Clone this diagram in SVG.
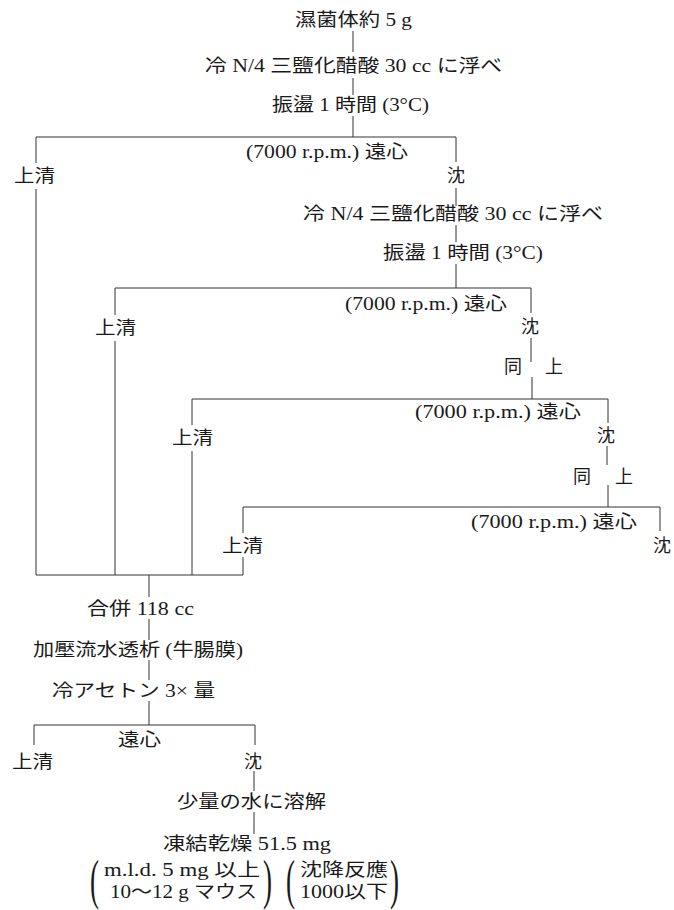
<svg xmlns="http://www.w3.org/2000/svg" width="674" height="910" viewBox="0 0 674 910">
<style>
text{font-family:"Liberation Serif","Noto Sans CJK JP",serif;font-size:18px;fill:#1a1a1a}
.c line{stroke:#333;stroke-width:1}
.p{font-family:"Liberation Serif",serif;font-size:54px}
</style>
<rect width="674" height="910" fill="#fff"/>
<g class="c" id="connectors">
<line x1="353" y1="31" x2="353" y2="52"/>
<line x1="353" y1="78" x2="353" y2="95"/>
<line x1="353" y1="116" x2="353" y2="137"/>
<line x1="36" y1="137" x2="456" y2="137"/>
<line x1="36" y1="137" x2="36" y2="163"/>
<line x1="36" y1="189" x2="36" y2="575"/>
<line x1="456" y1="137" x2="456" y2="162"/>
<line x1="456" y1="188" x2="456" y2="206"/>
<line x1="456" y1="225" x2="456" y2="242"/>
<line x1="456" y1="264" x2="456" y2="288"/>
<line x1="115" y1="288" x2="531" y2="288"/>
<line x1="115" y1="288" x2="115" y2="315"/>
<line x1="115" y1="341" x2="115" y2="575"/>
<line x1="531" y1="288" x2="531" y2="313"/>
<line x1="531" y1="338" x2="531" y2="362"/>
<line x1="532" y1="377" x2="532" y2="399"/>
<line x1="192" y1="399" x2="608" y2="399"/>
<line x1="192" y1="399" x2="192" y2="425"/>
<line x1="192" y1="451" x2="192" y2="575"/>
<line x1="608" y1="399" x2="608" y2="423"/>
<line x1="607" y1="446" x2="607" y2="465"/>
<line x1="608" y1="485" x2="608" y2="507"/>
<line x1="243" y1="507" x2="660" y2="507"/>
<line x1="243" y1="507" x2="243" y2="533"/>
<line x1="243" y1="557" x2="243" y2="575"/>
<line x1="660" y1="507" x2="660" y2="531"/>
<line x1="36" y1="575" x2="243" y2="575"/>
<line x1="149" y1="575" x2="149" y2="597"/>
<line x1="149" y1="619" x2="149" y2="640"/>
<line x1="149" y1="660" x2="149" y2="680"/>
<line x1="149" y1="701" x2="149" y2="725"/>
<line x1="34" y1="725" x2="255" y2="725"/>
<line x1="34" y1="725" x2="34" y2="745"/>
<line x1="255" y1="725" x2="255" y2="745"/>
<line x1="254" y1="771" x2="254" y2="791"/>
<line x1="254" y1="812" x2="254" y2="834"/>
</g>
<g id="n1"><text x="295" y="26" textLength="117" lengthAdjust="spacingAndGlyphs">濕菌体約 5 g</text></g>
<g id="n2"><text x="205" y="72" textLength="297" lengthAdjust="spacingAndGlyphs">冷 N/4 三鹽化醋酸 30 cc に浮べ</text></g>
<g id="n3"><text x="272" y="111" textLength="157" lengthAdjust="spacingAndGlyphs">振盪 1 時間 (3°C)</text></g>
<g id="n4"><text x="246" y="158" textLength="162" lengthAdjust="spacingAndGlyphs">(7000 r.p.m.) 遠心</text></g>
<g id="n5"><text x="14" y="182" textLength="41" lengthAdjust="spacingAndGlyphs">上清</text></g>
<g id="n6"><text x="447" y="182">沈</text></g>
<g id="n7"><text x="303" y="220" textLength="300" lengthAdjust="spacingAndGlyphs">冷 N/4 三鹽化醋酸 30 cc に浮べ</text></g>
<g id="n8"><text x="383" y="259" textLength="160" lengthAdjust="spacingAndGlyphs">振盪 1 時間 (3°C)</text></g>
<g id="n9"><text x="345" y="310" textLength="162" lengthAdjust="spacingAndGlyphs">(7000 r.p.m.) 遠心</text></g>
<g id="n10"><text x="95" y="334" textLength="41" lengthAdjust="spacingAndGlyphs">上清</text></g>
<g id="n11"><text x="521" y="333">沈</text></g>
<g id="n12"><text x="504" y="373" textLength="59" lengthAdjust="spacing">同　上</text></g>
<g id="n13"><text x="415" y="418" textLength="166" lengthAdjust="spacingAndGlyphs">(7000 r.p.m.) 遠心</text></g>
<g id="n14"><text x="172" y="444" textLength="41" lengthAdjust="spacingAndGlyphs">上清</text></g>
<g id="n15"><text x="597" y="442">沈</text></g>
<g id="n16"><text x="573" y="483" textLength="60" lengthAdjust="spacing">同　上</text></g>
<g id="n17"><text x="471" y="528" textLength="166" lengthAdjust="spacingAndGlyphs">(7000 r.p.m.) 遠心</text></g>
<g id="n18"><text x="222" y="552" textLength="41" lengthAdjust="spacingAndGlyphs">上清</text></g>
<g id="n19"><text x="653" y="552">沈</text></g>
<g id="n20"><text x="87" y="615" textLength="107" lengthAdjust="spacingAndGlyphs">合併 118 cc</text></g>
<g id="n21"><text x="33" y="656" textLength="210" lengthAdjust="spacingAndGlyphs">加壓流水透析 (牛腸膜)</text></g>
<g id="n22"><text x="52" y="697" textLength="163" lengthAdjust="spacingAndGlyphs">冷アセトン 3× 量</text></g>
<g id="n23"><text x="118" y="746" textLength="43" lengthAdjust="spacingAndGlyphs">遠心</text></g>
<g id="n24"><text x="12" y="768" textLength="41" lengthAdjust="spacingAndGlyphs">上清</text></g>
<g id="n25"><text x="244" y="768">沈</text></g>
<g id="n26"><text x="177" y="808" textLength="149" lengthAdjust="spacingAndGlyphs">少量の水に溶解</text></g>
<g id="n27"><text x="163" y="850" textLength="168" lengthAdjust="spacingAndGlyphs">凍結乾燥 51.5 mg</text></g>
<g id="n28">
<text class="p" transform="translate(90,898) scale(0.5,1)">(</text>
<text x="104" y="876" textLength="156" lengthAdjust="spacingAndGlyphs">m.l.d. 5 mg 以上</text>
<text x="110" y="898" textLength="147" lengthAdjust="spacingAndGlyphs">10～12 g マウス</text>
<text class="p" transform="translate(263,898) scale(0.5,1)">)</text>
</g>
<g id="n29">
<text class="p" transform="translate(286,898) scale(0.5,1)">(</text>
<text x="300" y="876" textLength="88" lengthAdjust="spacingAndGlyphs">沈降反應</text>
<text x="300" y="898" textLength="88" lengthAdjust="spacingAndGlyphs">1000以下</text>
<text class="p" transform="translate(390,898) scale(0.5,1)">)</text>
</g>
</svg>
